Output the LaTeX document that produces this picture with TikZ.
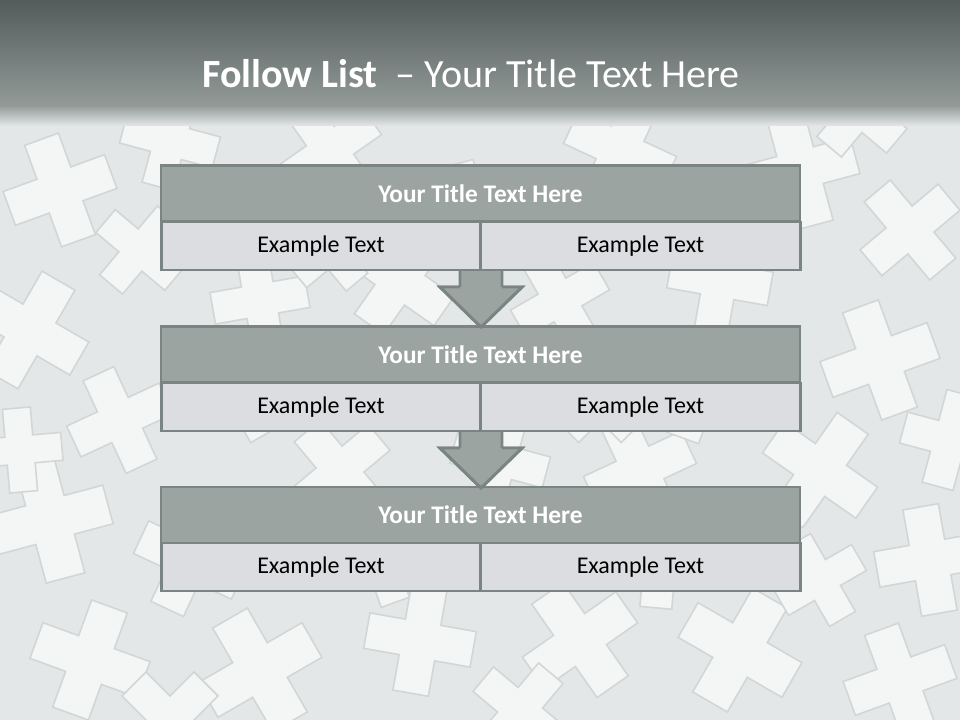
\documentclass[tikz,border=0pt]{standalone}
\usepackage{fontspec}
\setmainfont{Carlito}
\usetikzlibrary{calc}
\definecolor{bgc}{HTML}{E4E7E7}
\definecolor{hdtop}{HTML}{535B5B}
\definecolor{hdbot}{HTML}{939B99}
\definecolor{bord}{HTML}{7A8583}
\definecolor{tfill}{HTML}{9CA4A1}
\definecolor{sfill}{HTML}{DCDDE0}
\definecolor{crossA}{HTML}{F4F6F6}
\definecolor{crossB}{HTML}{D2D6D6}
\tikzset{
  crossp/.pic={
    \fill[crossA,draw=crossB,line width=1.2pt] (-1,-3) -- (1,-3) -- (1,-1) -- (3,-1) -- (3,1) -- (1,1) -- (1,3) -- (-1,3) -- (-1,1) -- (-3,1) -- (-3,-1) -- (-1,-1) -- cycle;
  },
  titlebox/.style={draw=bord,fill=tfill,line width=2.2pt,minimum width=639*0.75pt,minimum height=56*0.75pt,inner sep=0pt,font=\fontsize{19}{21}\selectfont\bfseries,text=white},
  subbox/.style={draw=bord,fill=sfill,line width=2.2pt,minimum width=319.5*0.75pt,minimum height=48*0.75pt,inner sep=0pt,font=\fontsize{18}{20}\selectfont,text=black},
  flowarrow/.style={draw=bord,fill=tfill,line width=2.2pt,line join=miter}
}
\begin{document}
\begin{tikzpicture}[x=0.75pt,y=-0.75pt]
\useasboundingbox (0,0) rectangle (960,720);
\fill[bgc] (0,0) rectangle (960,720);
% background crosses
\foreach \px/\py/\r/\s in {
  60/190/20/18, 170/140/-15/16, 330/150/35/17, 620/150/-25/18, 800/170/15/19, 910/230/40/17,
  30/330/-30/19, 120/420/25/17, 260/300/10/16, 400/280/-35/18, 560/300/30/16, 720/280/-10/17,
  880/360/20/19, 50/520/15/20, 190/560/-25/18, 340/470/40/17, 500/460/-15/16, 640/470/25/18,
  820/470/-35/19, 930/560/10/18, 90/660/-20/19, 260/670/30/20, 420/640/-10/18, 580/640/35/19,
  740/650/-30/20, 900/680/20/18, 470/210/15/16, 700/390/-20/17, 240/390/30/17,
  140/250/50/15, 860/110/-40/16, 20/450/5/14, 950/440/-15/16, 380/560/20/15, 660/560/-5/16,
  170/720/45/17, 520/710/-40/16, 820/580/30/15, 330/250/-50/14, 600/400/45/15}
  { \pic[rotate=\r,scale=\s] at (\px,\py) {crossp}; }
% header
\shade[top color=hdtop,bottom color=hdbot] (0,0) rectangle (960,106);
\shade[top color=hdbot,bottom color=bgc] (0,105.5) rectangle (960,126);
\node[anchor=base west,text=white,inner sep=0pt,font=\fontsize{30}{34}\selectfont] (title) at (202,88) {\textbf{Follow List}~ – Your Title Text Here};
% arrows (drawn first so boxes cover ends)
\foreach \ya/\yb in {270/327, 431/488} {
  \draw[flowarrow] (460,\ya-2) -- (502,\ya-2) -- (502,\ya+17) -- (522,\ya+17) -- (481,\yb) -- (440,\ya+17) -- (460,\ya+17) -- cycle;
}
% boxes
\node[titlebox] (t1) at (480.5,193.5) {Your Title Text Here};
\node[subbox] (l1) at (321,246) {Example Text};
\node[subbox] (r1) at (640.5,246) {Example Text};
\node[titlebox] (t2) at (480.5,354.5) {Your Title Text Here};
\node[subbox] (l2) at (321,407) {Example Text};
\node[subbox] (r2) at (640.5,407) {Example Text};
\node[titlebox] (t3) at (480.5,515) {Your Title Text Here};
\node[subbox] (l3) at (321,567) {Example Text};
\node[subbox] (r3) at (640.5,567) {Example Text};
% re-draw arrow tips over box tops
\foreach \ya/\yb in {270/327, 431/488} {
  \draw[flowarrow] (502,\ya+17) -- (522,\ya+17) -- (481,\yb) -- (440,\ya+17) -- (460,\ya+17);
}
\end{tikzpicture}
\end{document}
